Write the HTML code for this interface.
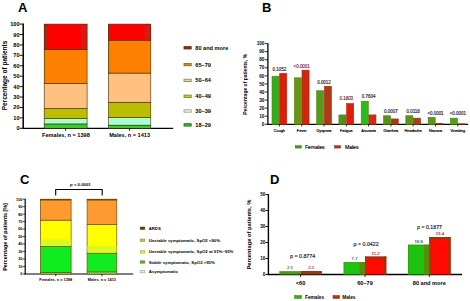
<!DOCTYPE html>
<html>
<head>
<meta charset="utf-8">
<title>Figure</title>
<style>
html, body { margin: 0; padding: 0; background: #ffffff; }
body { width: 470px; height: 301px; overflow: hidden; font-family: "Liberation Sans", sans-serif; }
svg { display: block; }
svg text { font-family: "Liberation Sans", sans-serif; }
</style>
</head>
<body>
<svg width="470" height="301" viewBox="0 0 470 301">
<rect x="0" y="0" width="470" height="301" fill="#ffffff"/>
<text x="18.10" y="11.70" font-size="13" text-anchor="start" font-weight="bold" fill="#000">A</text>
<line x1="23.20" y1="23.60" x2="23.20" y2="128.90" stroke="#000" stroke-width="1.5"/>
<line x1="22.50" y1="128.30" x2="173.20" y2="128.30" stroke="#000" stroke-width="1.3"/>
<line x1="19.60" y1="128.30" x2="23.20" y2="128.30" stroke="#000" stroke-width="0.9"/>
<text x="19.60" y="130.30" font-size="5.6" text-anchor="end" font-weight="bold" fill="#000">0</text>
<line x1="19.60" y1="117.88" x2="23.20" y2="117.88" stroke="#000" stroke-width="0.9"/>
<text x="19.60" y="119.88" font-size="5.6" text-anchor="end" font-weight="bold" fill="#000">10</text>
<line x1="19.60" y1="107.46" x2="23.20" y2="107.46" stroke="#000" stroke-width="0.9"/>
<text x="19.60" y="109.46" font-size="5.6" text-anchor="end" font-weight="bold" fill="#000">20</text>
<line x1="19.60" y1="97.04" x2="23.20" y2="97.04" stroke="#000" stroke-width="0.9"/>
<text x="19.60" y="99.04" font-size="5.6" text-anchor="end" font-weight="bold" fill="#000">30</text>
<line x1="19.60" y1="86.62" x2="23.20" y2="86.62" stroke="#000" stroke-width="0.9"/>
<text x="19.60" y="88.62" font-size="5.6" text-anchor="end" font-weight="bold" fill="#000">40</text>
<line x1="19.60" y1="76.20" x2="23.20" y2="76.20" stroke="#000" stroke-width="0.9"/>
<text x="19.60" y="78.20" font-size="5.6" text-anchor="end" font-weight="bold" fill="#000">50</text>
<line x1="19.60" y1="65.78" x2="23.20" y2="65.78" stroke="#000" stroke-width="0.9"/>
<text x="19.60" y="67.78" font-size="5.6" text-anchor="end" font-weight="bold" fill="#000">60</text>
<line x1="19.60" y1="55.36" x2="23.20" y2="55.36" stroke="#000" stroke-width="0.9"/>
<text x="19.60" y="57.36" font-size="5.6" text-anchor="end" font-weight="bold" fill="#000">70</text>
<line x1="19.60" y1="44.94" x2="23.20" y2="44.94" stroke="#000" stroke-width="0.9"/>
<text x="19.60" y="46.94" font-size="5.6" text-anchor="end" font-weight="bold" fill="#000">80</text>
<line x1="19.60" y1="34.52" x2="23.20" y2="34.52" stroke="#000" stroke-width="0.9"/>
<text x="19.60" y="36.52" font-size="5.6" text-anchor="end" font-weight="bold" fill="#000">90</text>
<line x1="19.60" y1="24.10" x2="23.20" y2="24.10" stroke="#000" stroke-width="0.9"/>
<text x="19.60" y="26.10" font-size="5.6" text-anchor="end" font-weight="bold" fill="#000">100</text>
<text x="6.60" y="75.50" font-size="6.5" text-anchor="middle" font-weight="bold" fill="#000" transform="rotate(-90 6.60 75.50)">Percentage of patients</text>
<rect x="44.20" y="123.92" width="42.90" height="4.38" fill="#3cc832"/>
<rect x="44.20" y="123.92" width="42.90" height="4.38" fill="none" stroke="#3a2a00" stroke-width="0.6"/>
<rect x="44.20" y="118.61" width="42.90" height="5.31" fill="#a8ffd0"/>
<rect x="44.20" y="118.61" width="42.90" height="5.31" fill="none" stroke="#3a2a00" stroke-width="0.6"/>
<rect x="44.20" y="108.50" width="42.90" height="10.11" fill="#bcbc00"/>
<rect x="44.20" y="108.50" width="42.90" height="10.11" fill="none" stroke="#3a2a00" stroke-width="0.6"/>
<rect x="44.20" y="83.49" width="42.90" height="25.01" fill="#ffc080"/>
<rect x="44.20" y="83.49" width="42.90" height="25.01" fill="none" stroke="#3a2a00" stroke-width="0.6"/>
<rect x="44.20" y="49.52" width="42.90" height="33.97" fill="#ff8000"/>
<rect x="44.20" y="49.52" width="1.80" height="33.97" fill="#cc8c14"/>
<rect x="44.20" y="49.52" width="42.90" height="33.97" fill="none" stroke="#3a2a00" stroke-width="0.6"/>
<rect x="44.20" y="24.10" width="42.90" height="25.42" fill="#ff0000"/>
<rect x="80.90" y="24.10" width="6.20" height="25.42" fill="#d61c12"/>
<rect x="44.20" y="24.10" width="2.60" height="25.42" fill="#a02c14"/>
<rect x="44.20" y="24.10" width="42.90" height="25.42" fill="none" stroke="#3a2a00" stroke-width="0.6"/>
<line x1="65.65" y1="128.30" x2="65.65" y2="130.80" stroke="#000" stroke-width="0.9"/>
<rect x="108.40" y="125.17" width="42.40" height="3.13" fill="#3cc832"/>
<rect x="108.40" y="125.17" width="42.40" height="3.13" fill="none" stroke="#3a2a00" stroke-width="0.6"/>
<rect x="108.40" y="117.67" width="42.40" height="7.50" fill="#a8ffd0"/>
<rect x="108.40" y="117.67" width="42.40" height="7.50" fill="none" stroke="#3a2a00" stroke-width="0.6"/>
<rect x="108.40" y="102.25" width="42.40" height="15.42" fill="#bcbc00"/>
<rect x="108.40" y="102.25" width="42.40" height="15.42" fill="none" stroke="#3a2a00" stroke-width="0.6"/>
<rect x="108.40" y="73.07" width="42.40" height="29.18" fill="#ffc080"/>
<rect x="108.40" y="73.07" width="42.40" height="29.18" fill="none" stroke="#3a2a00" stroke-width="0.6"/>
<rect x="108.40" y="40.15" width="42.40" height="32.93" fill="#ff8000"/>
<rect x="108.40" y="40.15" width="1.80" height="32.93" fill="#cc8c14"/>
<rect x="108.40" y="40.15" width="42.40" height="32.93" fill="none" stroke="#3a2a00" stroke-width="0.6"/>
<rect x="108.40" y="24.10" width="42.40" height="16.05" fill="#ff0000"/>
<rect x="144.60" y="24.10" width="6.20" height="16.05" fill="#d61c12"/>
<rect x="108.40" y="24.10" width="1.00" height="16.05" fill="#a02c14"/>
<rect x="108.40" y="24.10" width="42.40" height="16.05" fill="none" stroke="#3a2a00" stroke-width="0.6"/>
<line x1="129.60" y1="128.30" x2="129.60" y2="130.80" stroke="#000" stroke-width="0.9"/>
<text x="65.90" y="137.40" font-size="5.6" text-anchor="middle" font-weight="bold" fill="#000">Females, n = 1398</text>
<text x="129.60" y="137.40" font-size="5.6" text-anchor="middle" font-weight="bold" fill="#000">Males, n = 1413</text>
<rect x="184.00" y="46.60" width="7.20" height="2.40" fill="#a02810" stroke="#5a2a10" stroke-width="0.8"/>
<text x="195.30" y="49.80" font-size="5.6" text-anchor="start" font-weight="bold" fill="#000">80 and more</text>
<rect x="184.00" y="63.40" width="7.20" height="2.40" fill="#c89020" stroke="#7a6a20" stroke-width="0.8"/>
<text x="195.30" y="66.60" font-size="5.6" text-anchor="start" font-weight="bold" fill="#000">65–79</text>
<rect x="184.00" y="79.20" width="7.20" height="2.40" fill="#e8d8a0" stroke="#8a8050" stroke-width="0.8"/>
<text x="195.30" y="82.40" font-size="5.6" text-anchor="start" font-weight="bold" fill="#000">50–64</text>
<rect x="184.00" y="95.10" width="7.20" height="2.40" fill="#c8c830" stroke="#7a7a20" stroke-width="0.8"/>
<text x="195.30" y="98.30" font-size="5.6" text-anchor="start" font-weight="bold" fill="#000">40–49</text>
<rect x="184.00" y="109.80" width="7.20" height="2.40" fill="#e8f4e8" stroke="#909890" stroke-width="0.8"/>
<text x="195.30" y="113.00" font-size="5.6" text-anchor="start" font-weight="bold" fill="#000">30–39</text>
<rect x="184.00" y="123.70" width="7.20" height="2.40" fill="#40b030" stroke="#2a6a20" stroke-width="0.8"/>
<text x="195.30" y="126.90" font-size="5.6" text-anchor="start" font-weight="bold" fill="#000">18–29</text>
<text x="262.00" y="11.50" font-size="13" text-anchor="start" font-weight="bold" fill="#000">B</text>
<line x1="267.90" y1="43.20" x2="267.90" y2="124.80" stroke="#000" stroke-width="1.3"/>
<line x1="267.30" y1="124.30" x2="468.20" y2="124.30" stroke="#000" stroke-width="1.2"/>
<line x1="264.70" y1="124.30" x2="267.90" y2="124.30" stroke="#000" stroke-width="0.8"/>
<text x="264.40" y="125.95" font-size="4.6" text-anchor="end" font-weight="bold" fill="#000">0</text>
<line x1="264.70" y1="116.23" x2="267.90" y2="116.23" stroke="#000" stroke-width="0.8"/>
<text x="264.40" y="117.88" font-size="4.6" text-anchor="end" font-weight="bold" fill="#000">10</text>
<line x1="264.70" y1="108.16" x2="267.90" y2="108.16" stroke="#000" stroke-width="0.8"/>
<text x="264.40" y="109.81" font-size="4.6" text-anchor="end" font-weight="bold" fill="#000">20</text>
<line x1="264.70" y1="100.09" x2="267.90" y2="100.09" stroke="#000" stroke-width="0.8"/>
<text x="264.40" y="101.74" font-size="4.6" text-anchor="end" font-weight="bold" fill="#000">30</text>
<line x1="264.70" y1="92.02" x2="267.90" y2="92.02" stroke="#000" stroke-width="0.8"/>
<text x="264.40" y="93.67" font-size="4.6" text-anchor="end" font-weight="bold" fill="#000">40</text>
<line x1="264.70" y1="83.95" x2="267.90" y2="83.95" stroke="#000" stroke-width="0.8"/>
<text x="264.40" y="85.60" font-size="4.6" text-anchor="end" font-weight="bold" fill="#000">50</text>
<line x1="264.70" y1="75.88" x2="267.90" y2="75.88" stroke="#000" stroke-width="0.8"/>
<text x="264.40" y="77.53" font-size="4.6" text-anchor="end" font-weight="bold" fill="#000">60</text>
<line x1="264.70" y1="67.81" x2="267.90" y2="67.81" stroke="#000" stroke-width="0.8"/>
<text x="264.40" y="69.46" font-size="4.6" text-anchor="end" font-weight="bold" fill="#000">70</text>
<line x1="264.70" y1="59.74" x2="267.90" y2="59.74" stroke="#000" stroke-width="0.8"/>
<text x="264.40" y="61.39" font-size="4.6" text-anchor="end" font-weight="bold" fill="#000">80</text>
<line x1="264.70" y1="51.67" x2="267.90" y2="51.67" stroke="#000" stroke-width="0.8"/>
<text x="264.40" y="53.32" font-size="4.6" text-anchor="end" font-weight="bold" fill="#000">90</text>
<line x1="264.70" y1="43.60" x2="267.90" y2="43.60" stroke="#000" stroke-width="0.8"/>
<text x="264.40" y="45.25" font-size="4.6" text-anchor="end" font-weight="bold" fill="#000">100</text>
<text x="246.90" y="84.30" font-size="5.0" text-anchor="middle" font-weight="bold" fill="#000" transform="rotate(-90 246.90 84.30)">Percentage of patients, %</text>
<rect x="272.00" y="76.18" width="7.10" height="48.12" fill="#3caa1e" stroke="#4f8a12" stroke-width="0.6"/>
<rect x="279.70" y="73.36" width="7.10" height="50.94" fill="#e01c0e" stroke="#a03010" stroke-width="0.6"/>
<line x1="279.40" y1="124.30" x2="279.40" y2="126.50" stroke="#000" stroke-width="0.8"/>
<text x="279.40" y="131.60" font-size="3.8" text-anchor="middle" stroke="#000" stroke-width="0.18" fill="#000">Cough</text>
<text x="279.40" y="71.15" font-size="4.45" text-anchor="middle" stroke="#24243c" stroke-width="0.15" fill="#24243c">0.1052</text>
<rect x="294.30" y="77.79" width="7.10" height="46.51" fill="#6c9414" stroke="#4f8a12" stroke-width="0.6"/>
<rect x="302.00" y="70.13" width="7.10" height="54.17" fill="#cc280e" stroke="#a03010" stroke-width="0.6"/>
<line x1="301.70" y1="124.30" x2="301.70" y2="126.50" stroke="#000" stroke-width="0.8"/>
<text x="301.70" y="131.60" font-size="3.8" text-anchor="middle" stroke="#000" stroke-width="0.18" fill="#000">Fever</text>
<text x="301.70" y="68.05" font-size="4.45" text-anchor="middle" stroke="#7a2448" stroke-width="0.15" fill="#7a2448">&lt;0.0001</text>
<rect x="316.60" y="90.71" width="7.10" height="33.59" fill="#58981a" stroke="#4f8a12" stroke-width="0.6"/>
<rect x="324.30" y="86.27" width="7.10" height="38.03" fill="#b03814" stroke="#a03010" stroke-width="0.6"/>
<line x1="324.00" y1="124.30" x2="324.00" y2="126.50" stroke="#000" stroke-width="0.8"/>
<text x="324.00" y="131.60" font-size="3.8" text-anchor="middle" stroke="#000" stroke-width="0.18" fill="#000">Dyspnea</text>
<text x="324.00" y="84.05" font-size="4.45" text-anchor="middle" stroke="#24243c" stroke-width="0.15" fill="#24243c">0.0012</text>
<rect x="338.90" y="114.92" width="7.10" height="9.38" fill="#4c9218" stroke="#4f8a12" stroke-width="0.6"/>
<rect x="346.60" y="103.62" width="7.10" height="20.68" fill="#e01c0c" stroke="#a03010" stroke-width="0.6"/>
<line x1="346.30" y1="124.30" x2="346.30" y2="126.50" stroke="#000" stroke-width="0.8"/>
<text x="346.30" y="131.60" font-size="3.8" text-anchor="middle" stroke="#000" stroke-width="0.18" fill="#000">Fatigue</text>
<text x="346.30" y="100.25" font-size="4.45" text-anchor="middle" stroke="#7a2c2c" stroke-width="0.15" fill="#7a2c2c">0.1803</text>
<rect x="361.20" y="101.20" width="7.10" height="23.10" fill="#2cbc18" stroke="#4f8a12" stroke-width="0.6"/>
<rect x="368.90" y="114.92" width="7.10" height="9.38" fill="#cc3014" stroke="#a03010" stroke-width="0.6"/>
<line x1="368.60" y1="124.30" x2="368.60" y2="126.50" stroke="#000" stroke-width="0.8"/>
<text x="368.60" y="131.60" font-size="3.8" text-anchor="middle" stroke="#000" stroke-width="0.18" fill="#000">Anosmia</text>
<text x="368.60" y="98.05" font-size="4.45" text-anchor="middle" stroke="#24243c" stroke-width="0.15" fill="#24243c">0.7604</text>
<rect x="383.50" y="115.72" width="7.10" height="8.58" fill="#5a9016" stroke="#4f8a12" stroke-width="0.6"/>
<rect x="391.20" y="118.95" width="7.10" height="5.35" fill="#a03c14" stroke="#a03010" stroke-width="0.6"/>
<line x1="390.90" y1="124.30" x2="390.90" y2="126.50" stroke="#000" stroke-width="0.8"/>
<text x="390.90" y="131.60" font-size="3.8" text-anchor="middle" stroke="#000" stroke-width="0.18" fill="#000">Diarrhea</text>
<text x="390.90" y="112.65" font-size="4.45" text-anchor="middle" stroke="#24243c" stroke-width="0.15" fill="#24243c">0.0007</text>
<rect x="405.80" y="115.72" width="7.10" height="8.58" fill="#649016" stroke="#4f8a12" stroke-width="0.6"/>
<rect x="413.50" y="118.14" width="7.10" height="6.16" fill="#a04416" stroke="#a03010" stroke-width="0.6"/>
<line x1="413.20" y1="124.30" x2="413.20" y2="126.50" stroke="#000" stroke-width="0.8"/>
<text x="413.20" y="131.60" font-size="3.8" text-anchor="middle" stroke="#000" stroke-width="0.18" fill="#000">Headache</text>
<text x="413.20" y="113.25" font-size="4.45" text-anchor="middle" stroke="#24243c" stroke-width="0.15" fill="#24243c">0.0118</text>
<rect x="428.10" y="117.34" width="7.10" height="6.96" fill="#5a9618" stroke="#4f8a12" stroke-width="0.6"/>
<rect x="435.80" y="123.31" width="7.10" height="0.99" fill="#6a3010" stroke="#a03010" stroke-width="0.6"/>
<line x1="435.50" y1="124.30" x2="435.50" y2="126.50" stroke="#000" stroke-width="0.8"/>
<text x="435.50" y="131.60" font-size="3.8" text-anchor="middle" stroke="#000" stroke-width="0.18" fill="#000">Nausea</text>
<text x="435.50" y="114.55" font-size="4.45" text-anchor="middle" stroke="#24243c" stroke-width="0.15" fill="#24243c">&lt;0.0001</text>
<rect x="450.40" y="118.14" width="7.10" height="6.16" fill="#50a018" stroke="#4f8a12" stroke-width="0.6"/>
<rect x="458.10" y="123.87" width="7.10" height="0.43" fill="#5a3010" stroke="#a03010" stroke-width="0.6"/>
<line x1="457.80" y1="124.30" x2="457.80" y2="126.50" stroke="#000" stroke-width="0.8"/>
<text x="457.80" y="131.60" font-size="3.8" text-anchor="middle" stroke="#000" stroke-width="0.18" fill="#000">Vomiting</text>
<text x="457.80" y="115.35" font-size="4.45" text-anchor="middle" stroke="#24243c" stroke-width="0.15" fill="#24243c">&lt;0.0001</text>
<rect x="295.20" y="145.60" width="6.20" height="2.50" fill="#4a9a18" stroke="#4a7a18" stroke-width="0.5"/>
<text x="305.00" y="148.80" font-size="5.1" text-anchor="start" stroke="#000" stroke-width="0.15" fill="#000">Females</text>
<rect x="334.50" y="145.60" width="6.20" height="2.50" fill="#b03414" stroke="#8a3a18" stroke-width="0.5"/>
<text x="344.90" y="148.80" font-size="5.1" text-anchor="start" stroke="#000" stroke-width="0.15" fill="#000">Males</text>
<text x="20.00" y="184.30" font-size="13" text-anchor="start" font-weight="bold" fill="#000">C</text>
<line x1="25.20" y1="198.80" x2="25.20" y2="274.50" stroke="#000" stroke-width="1.2"/>
<line x1="24.60" y1="274.00" x2="133.20" y2="274.00" stroke="#000" stroke-width="1.1"/>
<line x1="22.60" y1="274.00" x2="25.20" y2="274.00" stroke="#000" stroke-width="0.7"/>
<text x="22.40" y="275.36" font-size="3.8" text-anchor="end" font-weight="bold" fill="#000">0</text>
<line x1="22.60" y1="266.52" x2="25.20" y2="266.52" stroke="#000" stroke-width="0.7"/>
<text x="22.40" y="267.88" font-size="3.8" text-anchor="end" font-weight="bold" fill="#000">10</text>
<line x1="22.60" y1="259.04" x2="25.20" y2="259.04" stroke="#000" stroke-width="0.7"/>
<text x="22.40" y="260.40" font-size="3.8" text-anchor="end" font-weight="bold" fill="#000">20</text>
<line x1="22.60" y1="251.56" x2="25.20" y2="251.56" stroke="#000" stroke-width="0.7"/>
<text x="22.40" y="252.92" font-size="3.8" text-anchor="end" font-weight="bold" fill="#000">30</text>
<line x1="22.60" y1="244.08" x2="25.20" y2="244.08" stroke="#000" stroke-width="0.7"/>
<text x="22.40" y="245.44" font-size="3.8" text-anchor="end" font-weight="bold" fill="#000">40</text>
<line x1="22.60" y1="236.60" x2="25.20" y2="236.60" stroke="#000" stroke-width="0.7"/>
<text x="22.40" y="237.96" font-size="3.8" text-anchor="end" font-weight="bold" fill="#000">50</text>
<line x1="22.60" y1="229.12" x2="25.20" y2="229.12" stroke="#000" stroke-width="0.7"/>
<text x="22.40" y="230.48" font-size="3.8" text-anchor="end" font-weight="bold" fill="#000">60</text>
<line x1="22.60" y1="221.64" x2="25.20" y2="221.64" stroke="#000" stroke-width="0.7"/>
<text x="22.40" y="223.00" font-size="3.8" text-anchor="end" font-weight="bold" fill="#000">70</text>
<line x1="22.60" y1="214.16" x2="25.20" y2="214.16" stroke="#000" stroke-width="0.7"/>
<text x="22.40" y="215.52" font-size="3.8" text-anchor="end" font-weight="bold" fill="#000">80</text>
<line x1="22.60" y1="206.68" x2="25.20" y2="206.68" stroke="#000" stroke-width="0.7"/>
<text x="22.40" y="208.04" font-size="3.8" text-anchor="end" font-weight="bold" fill="#000">90</text>
<line x1="22.60" y1="199.20" x2="25.20" y2="199.20" stroke="#000" stroke-width="0.7"/>
<text x="22.40" y="200.56" font-size="3.8" text-anchor="end" font-weight="bold" fill="#000">100</text>
<text x="6.90" y="237.00" font-size="5.4" text-anchor="middle" font-weight="bold" fill="#000" transform="rotate(-90 6.90 237.00)">Percentage of patients [%]</text>
<rect x="40.40" y="272.35" width="30.70" height="1.65" fill="#98f088" stroke="#6a5000" stroke-width="0.7"/>
<rect x="40.40" y="246.32" width="30.70" height="26.03" fill="#10ec20" stroke="#6a5000" stroke-width="0.7"/>
<rect x="40.40" y="220.14" width="30.70" height="26.18" fill="#ffff00" stroke="#6a5000" stroke-width="0.7"/>
<rect x="40.80" y="239.32" width="29.90" height="6.60" fill="#dcf824"/>
<rect x="40.40" y="199.95" width="30.70" height="20.20" fill="#ff9a30" stroke="#6a5000" stroke-width="0.7"/>
<rect x="40.40" y="199.20" width="30.70" height="0.75" fill="#8a2a00" stroke="#6a5000" stroke-width="0.7"/>
<line x1="55.75" y1="274.00" x2="55.75" y2="276.20" stroke="#000" stroke-width="0.8"/>
<rect x="87.10" y="271.91" width="29.70" height="2.09" fill="#98f088" stroke="#6a5000" stroke-width="0.7"/>
<rect x="87.10" y="253.06" width="29.70" height="18.85" fill="#10ec20" stroke="#6a5000" stroke-width="0.7"/>
<rect x="87.10" y="224.63" width="29.70" height="28.42" fill="#ffff00" stroke="#6a5000" stroke-width="0.7"/>
<rect x="87.50" y="246.06" width="28.90" height="6.60" fill="#dcf824"/>
<rect x="87.10" y="199.95" width="29.70" height="24.68" fill="#ff9a30" stroke="#6a5000" stroke-width="0.7"/>
<rect x="87.10" y="199.20" width="29.70" height="0.75" fill="#8a2a00" stroke="#6a5000" stroke-width="0.7"/>
<line x1="101.95" y1="274.00" x2="101.95" y2="276.20" stroke="#000" stroke-width="0.8"/>
<text x="55.70" y="280.90" font-size="3.85" text-anchor="middle" font-weight="bold" fill="#000">Females, n = 1398</text>
<text x="101.90" y="280.90" font-size="3.85" text-anchor="middle" font-weight="bold" fill="#000">Males, n = 1413</text>
<path d="M55.7 195.6 V189.5 H102.2 V195.6" fill="none" stroke="#000" stroke-width="1.1"/>
<text x="80.40" y="185.50" font-size="4.3" text-anchor="middle" font-weight="bold" fill="#000">p &lt; 0.0001</text>
<rect x="140.20" y="227.05" width="4.60" height="2.30" fill="#7a3414" stroke="#5a3018" stroke-width="0.6"/>
<text x="148.70" y="229.70" font-size="4.28" text-anchor="start" font-weight="bold" fill="#000">ARDS</text>
<rect x="140.20" y="239.05" width="4.60" height="2.30" fill="#c8c040" stroke="#8a8a40" stroke-width="0.6"/>
<text x="148.70" y="241.70" font-size="4.28" text-anchor="start" font-weight="bold" fill="#000">Unstable symptomatic, SpO2 &lt;90%</text>
<rect x="140.20" y="250.75" width="4.60" height="2.30" fill="#f4f440" stroke="#9a9a30" stroke-width="0.6"/>
<text x="148.70" y="253.40" font-size="4.28" text-anchor="start" font-weight="bold" fill="#000">Unstable symptomatic, SpO2 at 91%–95%</text>
<rect x="140.20" y="260.85" width="4.60" height="2.30" fill="#58b030" stroke="#4a8a30" stroke-width="0.6"/>
<text x="148.70" y="263.50" font-size="4.28" text-anchor="start" font-weight="bold" fill="#000">Stable symptomatic, SpO2 &gt;95%</text>
<rect x="140.20" y="270.55" width="4.60" height="2.30" fill="#e4eedc" stroke="#9aa090" stroke-width="0.6"/>
<text x="148.70" y="273.20" font-size="4.28" text-anchor="start" font-weight="bold" fill="#000">Asymptomatic</text>
<text x="270.00" y="184.00" font-size="13" text-anchor="start" font-weight="bold" fill="#000">D</text>
<line x1="268.40" y1="194.00" x2="268.40" y2="275.10" stroke="#000" stroke-width="1.4"/>
<line x1="267.70" y1="274.50" x2="462.00" y2="274.50" stroke="#000" stroke-width="1.4"/>
<line x1="265.50" y1="274.50" x2="268.40" y2="274.50" stroke="#000" stroke-width="0.9"/>
<text x="265.40" y="276.15" font-size="4.6" text-anchor="end" font-weight="bold" fill="#000">0</text>
<line x1="265.50" y1="258.50" x2="268.40" y2="258.50" stroke="#000" stroke-width="0.9"/>
<text x="265.40" y="260.15" font-size="4.6" text-anchor="end" font-weight="bold" fill="#000">10</text>
<line x1="265.50" y1="242.50" x2="268.40" y2="242.50" stroke="#000" stroke-width="0.9"/>
<text x="265.40" y="244.15" font-size="4.6" text-anchor="end" font-weight="bold" fill="#000">20</text>
<line x1="265.50" y1="226.50" x2="268.40" y2="226.50" stroke="#000" stroke-width="0.9"/>
<text x="265.40" y="228.15" font-size="4.6" text-anchor="end" font-weight="bold" fill="#000">30</text>
<line x1="265.50" y1="210.50" x2="268.40" y2="210.50" stroke="#000" stroke-width="0.9"/>
<text x="265.40" y="212.15" font-size="4.6" text-anchor="end" font-weight="bold" fill="#000">40</text>
<line x1="265.50" y1="194.50" x2="268.40" y2="194.50" stroke="#000" stroke-width="0.9"/>
<text x="265.40" y="196.15" font-size="4.6" text-anchor="end" font-weight="bold" fill="#000">50</text>
<text x="250.60" y="234.60" font-size="5.75" text-anchor="middle" font-weight="bold" fill="#000" transform="rotate(-90 250.60 234.60)">Percentage of patients, %</text>
<rect x="279.30" y="271.14" width="21.30" height="3.36" fill="#4f9a14"/>
<rect x="300.60" y="270.98" width="21.30" height="3.52" fill="#8e3a12"/>
<line x1="300.60" y1="274.50" x2="300.60" y2="277.10" stroke="#000" stroke-width="0.8"/>
<text x="300.60" y="284.50" font-size="5.6" text-anchor="middle" font-weight="bold" fill="#000">&lt;60</text>
<text x="289.95" y="269.44" font-size="4.4" text-anchor="middle" stroke="#2a6a6a" stroke-width="0.15" fill="#2a6a6a">2.1</text>
<text x="311.25" y="269.28" font-size="4.4" text-anchor="middle" stroke="#c42038" stroke-width="0.15" fill="#c42038">2.2</text>
<text x="302.60" y="258.40" font-size="5.25" text-anchor="middle" stroke="#1a1a1a" stroke-width="0.15" fill="#1a1a1a">p = 0.8774</text>
<rect x="343.70" y="262.18" width="21.30" height="12.32" fill="#1cc410"/>
<rect x="343.70" y="262.18" width="21.30" height="0.90" fill="#4a9a10"/>
<rect x="343.70" y="262.18" width="0.80" height="12.32" fill="#3aa010"/>
<rect x="359.70" y="262.18" width="5.30" height="12.32" fill="#5a8c0c"/>
<rect x="365.00" y="256.58" width="21.30" height="17.92" fill="#ff0a00"/>
<rect x="365.00" y="256.58" width="21.30" height="2.00" fill="#8e3a12"/>
<rect x="384.20" y="256.58" width="2.10" height="17.92" fill="#8e3a12"/>
<rect x="365.00" y="256.58" width="1.20" height="17.92" fill="#7a4a10"/>
<line x1="365.00" y1="274.50" x2="365.00" y2="277.10" stroke="#000" stroke-width="0.8"/>
<text x="365.00" y="284.50" font-size="5.6" text-anchor="middle" font-weight="bold" fill="#000">60–79</text>
<text x="354.35" y="260.48" font-size="4.4" text-anchor="middle" stroke="#2a6a6a" stroke-width="0.15" fill="#2a6a6a">7.7</text>
<text x="375.65" y="254.88" font-size="4.4" text-anchor="middle" stroke="#c42038" stroke-width="0.15" fill="#c42038">11.2</text>
<text x="366.10" y="246.40" font-size="5.25" text-anchor="middle" stroke="#1a1a1a" stroke-width="0.15" fill="#1a1a1a">p = 0.0422</text>
<rect x="408.00" y="244.74" width="21.30" height="29.76" fill="#1cc410"/>
<rect x="408.00" y="244.74" width="21.30" height="0.90" fill="#4a9a10"/>
<rect x="408.00" y="244.74" width="0.80" height="29.76" fill="#3aa010"/>
<rect x="424.00" y="244.74" width="5.30" height="29.76" fill="#5a8c0c"/>
<rect x="429.30" y="237.06" width="21.30" height="37.44" fill="#ff0a00"/>
<rect x="429.30" y="237.06" width="21.30" height="2.00" fill="#8e3a12"/>
<rect x="448.50" y="237.06" width="2.10" height="37.44" fill="#8e3a12"/>
<rect x="429.30" y="237.06" width="1.20" height="37.44" fill="#7a4a10"/>
<line x1="429.30" y1="274.50" x2="429.30" y2="277.10" stroke="#000" stroke-width="0.8"/>
<text x="429.30" y="284.50" font-size="5.6" text-anchor="middle" font-weight="bold" fill="#000">80 and more</text>
<text x="418.65" y="243.04" font-size="4.4" text-anchor="middle" stroke="#2a6a6a" stroke-width="0.15" fill="#2a6a6a">18.6</text>
<text x="439.95" y="235.36" font-size="4.4" text-anchor="middle" stroke="#c42038" stroke-width="0.15" fill="#c42038">23.4</text>
<text x="429.50" y="228.50" font-size="5.25" text-anchor="middle" stroke="#1a1a1a" stroke-width="0.15" fill="#1a1a1a">p = 0.1877</text>
<rect x="294.60" y="295.60" width="7.00" height="2.80" fill="#3cae14" stroke="#3f8a10" stroke-width="0.6"/>
<text x="305.00" y="298.80" font-size="4.8" text-anchor="start" font-weight="bold" fill="#000">Females</text>
<rect x="333.00" y="295.60" width="6.60" height="2.80" fill="#c03010" stroke="#8a3210" stroke-width="0.6"/>
<text x="342.20" y="298.80" font-size="4.8" text-anchor="start" font-weight="bold" fill="#000">Males</text>
</svg>
</body>
</html>
